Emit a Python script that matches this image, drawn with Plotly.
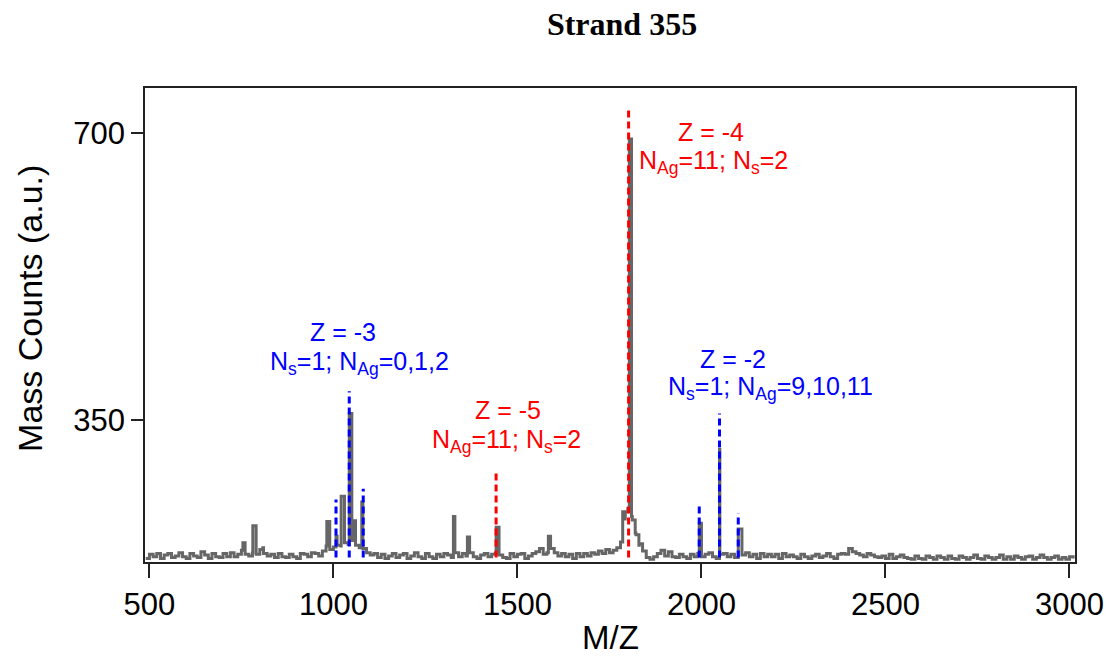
import numpy as np
import plotly.graph_objects as go

# ---------------- data ----------------
# baseline spectrum, one value every 10 m/z starting at 490
base_start = 490
base_step = 10
base_counts = [
    181, 186, 183, 187, 181, 185, 187, 182, 184, 188,   # 490-580
    183, 181, 187, 184, 182, 189, 185, 181, 187, 183,   # 590-680
    182, 187, 183, 188, 183, 186, 191, 186, 184, 188,   # 690-780
    186, 192, 187, 184, 186, 182, 187, 183, 182, 186,   # 790-880
    183, 181, 187, 186, 183, 188, 187, 184, 190, 196,   # 890-980
    192, 195, 197, 196, 200, 198, 203, 197, 194, 193,   # 990-1080
    188, 185, 187, 182, 186, 181, 184, 187, 182, 185,   # 1090-1180
    187, 181, 184, 188, 183, 181, 187, 183, 181, 186,   # 1190-1280
    183, 187, 185, 182, 188, 183, 187, 184, 188, 183,   # 1290-1380
    181, 185, 187, 183, 186, 187, 185, 182, 181, 187,   # 1390-1480
    183, 186, 187, 181, 184, 187, 189, 193, 186, 188,   # 1490-1580
    193, 188, 184, 187, 183, 186, 181, 187, 183, 187,   # 1590-1680
    184, 188, 186, 190, 187, 192, 188, 191, 194, 201,   # 1690-1780
    229, 242, 232, 212, 197, 190, 182, 180, 183, 187,   # 1790-1880
    191, 184, 189, 183, 182, 186, 183, 181, 186, 183,   # 1890-1980
    187, 183, 186, 188, 183, 181, 186, 187, 183, 186,   # 1990-2080
    182, 187, 185, 188, 183, 186, 181, 187, 183, 186,   # 2090-2180
    183, 186, 181, 187, 183, 185, 183, 181, 186, 183,   # 2190-2280
    181, 184, 186, 182, 184, 187, 183, 181, 186, 187,   # 2290-2380
    186, 193, 189, 187, 185, 183, 187, 185, 183, 182,   # 2390-2480
    184, 181, 186, 181, 183, 185, 182, 181, 180, 184,   # 2490-2580
    181, 180, 184, 182, 180, 184, 182, 180, 184, 181,   # 2590-2680
    180, 184, 182, 180, 182, 185, 181, 180, 184, 182,   # 2690-2780
    180, 182, 185, 180, 183, 180, 184, 182, 180, 183,   # 2790-2880
    184, 180, 182, 185, 182, 180, 182, 184, 180, 182,   # 2890-2980
    180, 183, 181,                                      # 2990-3010
]

# individual peaks (m/z, counts)
peak_mz = [754, 781, 808, 982, 1007, 1021, 1043, 1056, 1077, 1326, 1364,
           1442, 1584, 1786, 1793, 1804, 1812, 1822, 1831, 1994, 2049, 2100]
peak_counts = [200, 221, 194, 226, 208, 257, 358, 227, 250, 232, 207,
               219, 208, 238, 238, 693, 228, 210, 199, 224, 314, 217]

# assignment markers (dashed lines)
blue_mz = [1007, 1043, 1081, 1994, 2049, 2100]
blue_top = [253, 385, 266, 249, 358, 236]
red_mz = [1442, 1802]
red_top = [288, 732]
marker_floor = 182

x_ticks = [500, 1000, 1500, 2000, 2500, 3000]
y_ticks = [350, 700]

# annotation texts: (text, m/z, counts, colour)
labels = [
    ("Z = -3", 1027, 458, "blue"),
    ("N<sub>s</sub>=1; N<sub>Ag</sub>=0,1,2", 1072, 420, "blue"),
    ("Z = -5", 1475, 362, "red"),
    ("N<sub>Ag</sub>=11; N<sub>s</sub>=2", 1469, 324, "red"),
    ("Z = -4", 2025, 702, "red"),
    ("N<sub>Ag</sub>=11; N<sub>s</sub>=2", 2034, 665, "red"),
    ("Z = -2", 2087, 425, "blue"),
    ("N<sub>s</sub>=1; N<sub>Ag</sub>=9,10,11", 2187, 389, "blue"),
]

# ---------------- build ----------------
base_mz = base_start + base_step * np.arange(len(base_counts))
all_mz = np.concatenate([base_mz, np.array(peak_mz)])
all_counts = np.concatenate([np.array(base_counts), np.array(peak_counts)])
order = np.argsort(all_mz, kind="stable")
all_mz = all_mz[order]
all_counts = all_counts[order]

fig = go.Figure()
fig.add_trace(go.Scatter(
    x=all_mz, y=all_counts, mode="lines",
    line=dict(color="#666666", width=3, shape="hv"),
    showlegend=False, hoverinfo="skip"))


def add_markers(mzs, tops, colour):
    xs, ys = [], []
    for m, t in zip(mzs, tops):
        xs += [m, m, None]
        ys += [marker_floor, t, None]
    fig.add_trace(go.Scatter(
        x=xs, y=ys, mode="lines",
        line=dict(color=colour, width=3, dash="7px,4px"),
        showlegend=False, hoverinfo="skip"))


add_markers(blue_mz, blue_top, "#0000FF")
add_markers(red_mz, red_top, "#FF0000")

font_family = "Arial, Liberation Sans, sans-serif"
for text, mx, my, col in labels:
    fig.add_annotation(
        x=mx, y=my, xref="x", yref="y", text=text, showarrow=False,
        xanchor="center", yanchor="middle",
        font=dict(family=font_family, size=25,
                  color="#0000FF" if col == "blue" else "#FF0000"))

# axis titles as annotations
fig.add_annotation(
    x=-0.1237, y=0.536, xref="paper", yref="paper", text="Mass Counts (a.u.)",
    textangle=-90, showarrow=False, xanchor="center", yanchor="middle",
    font=dict(family=font_family, size=34, color="black"))
fig.add_annotation(
    x=0.5, y=-0.2025, xref="paper", yref="paper", text="M/Z",
    showarrow=False, xanchor="center", yanchor="bottom",
    font=dict(family=font_family, size=33, color="black"))

fig.update_layout(
    width=1109, height=658,
    margin=dict(l=145, r=34, t=88, b=96),
    plot_bgcolor="white", paper_bgcolor="white",
    title=dict(text="<b>Strand 355</b>", x=622 / 1109, y=1 - 24 / 658,
               xanchor="center", yanchor="middle", xref="container", yref="container",
               font=dict(family="Liberation Serif, Times New Roman, serif",
                         size=32, color="black")),
    xaxis=dict(range=[488, 3015], tickvals=x_ticks, ticks="outside", ticklen=14,
               tickwidth=1.5, tickcolor="#222", showline=True, linecolor="#222",
               linewidth=1.5, mirror=True, showgrid=False, zeroline=False,
               automargin=False,
               tickfont=dict(family=font_family, size=31, color="black")),
    yaxis=dict(range=[176.6, 755.3], tickvals=y_ticks, ticks="outside", ticklen=12,
               tickwidth=1.5, tickcolor="#222", showline=True, linecolor="#222",
               linewidth=1.5, mirror=True, showgrid=False, zeroline=False,
               automargin=False,
               tickfont=dict(family=font_family, size=31, color="black")),
)

fig.write_html("out.html")
